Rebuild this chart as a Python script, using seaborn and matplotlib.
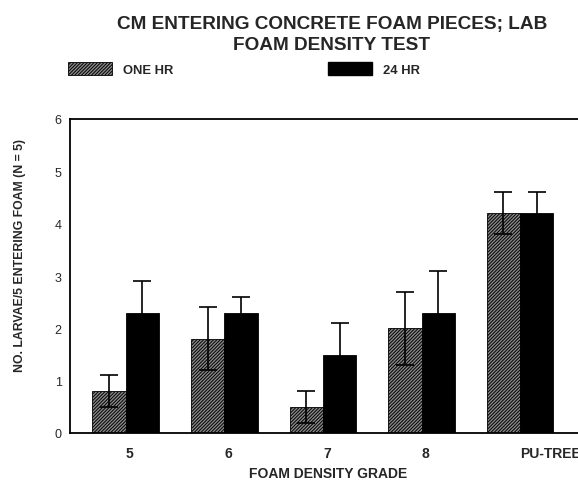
import numpy as np
import pandas as pd
import matplotlib
matplotlib.use("Agg")
import matplotlib.pyplot as plt
import matplotlib.patches as mpatches
import seaborn as sns

# values
grades = ["5", "6", "7", "8", "PU-TREE"]
one_hr = [0.8, 1.8, 0.5, 2.0, 4.2]
one_hr_err = [0.3, 0.6, 0.3, 0.7, 0.4]
day_hr = [2.3, 2.3, 1.5, 2.3, 4.2]
day_hr_err = [0.6, 0.3, 0.6, 0.8, 0.4]
series = ["ONE HR", "24 HR"]

df = pd.DataFrame({
    "grade": grades * 2,
    "time": [series[0]] * len(grades) + [series[1]] * len(grades),
    "larvae": one_hr + day_hr,
})

sns.set_style("white")
plt.rcParams["font.family"] = ["Liberation Sans", "DejaVu Sans"]
plt.rcParams["hatch.linewidth"] = 0.7

fig = plt.figure(figsize=(5.78, 4.81), dpi=100)
# axes run past the right edge of the figure, as in the reference
ax = fig.add_axes([70 / 578, 1 - 434 / 481, 520 / 578, 314 / 481])

sns.barplot(data=df, x="grade", y="larvae", hue="time", order=grades,
            hue_order=series, palette=["white", "black"], width=0.676,
            errorbar=None, edgecolor="black", linewidth=0.6, ax=ax, legend=False)

# hatch the ONE HR bars and add error bars
for bar in ax.containers[0]:
    bar.set_hatch("//////////")
    bar.set_facecolor("#888888")
for cont, errs in zip(ax.containers, [one_hr_err, day_hr_err]):
    xs = [b.get_x() + b.get_width() / 2 for b in cont]
    ys = [b.get_height() for b in cont]
    ax.errorbar(xs, ys, yerr=errs, fmt="none", ecolor="black",
                elinewidth=1.2, capsize=6.5, capthick=1.2, zorder=5)

ax.set_ylim(0, 6)
ax.set_xlim(-0.565, -0.565 + 520 / 98.6)
ax.set_yticks(range(7))
ax.tick_params(axis="y", direction="in", length=8, width=1, labelsize=9, pad=6)
ax.tick_params(axis="x", length=0, labelsize=10, pad=9)
for lab in ax.get_xticklabels():
    lab.set_fontweight("bold")
    lab.set_horizontalalignment("left")
for sp in ax.spines.values():
    sp.set_linewidth(1.3)
    sp.set_color("black")

ax.set_xlabel("FOAM DENSITY GRADE", fontsize=10, fontweight="bold")
ax.xaxis.set_label_coords(258 / 520, -33 / 314)
ax.set_ylabel("NO. LARVAE/5 ENTERING FOAM (N = 5)", fontsize=8.8, fontweight="bold")
ax.yaxis.set_label_coords(-44 / 520, (434 - 256) / 314)

fig.text(332 / 578, 1 - 35 / 481, "CM ENTERING CONCRETE FOAM PIECES; LAB\nFOAM DENSITY TEST",
         ha="center", va="center", fontsize=13.7, fontweight="bold", linespacing=1.35)

handles = [mpatches.Patch(facecolor="#888888", edgecolor="black", hatch="//////////", linewidth=0.6),
           mpatches.Patch(facecolor="black", edgecolor="black")]
leg = fig.legend(handles, series, loc="center left", bbox_to_anchor=(68 / 578, 1 - 70 / 481),
                 ncol=2, frameon=False, handlelength=3.4, handleheight=1.1,
                 handletextpad=0.8, columnspacing=11.85, borderpad=0, borderaxespad=0,
                 prop={"weight": "bold", "size": 9.4})

fig.savefig("out.png", dpi=100)
